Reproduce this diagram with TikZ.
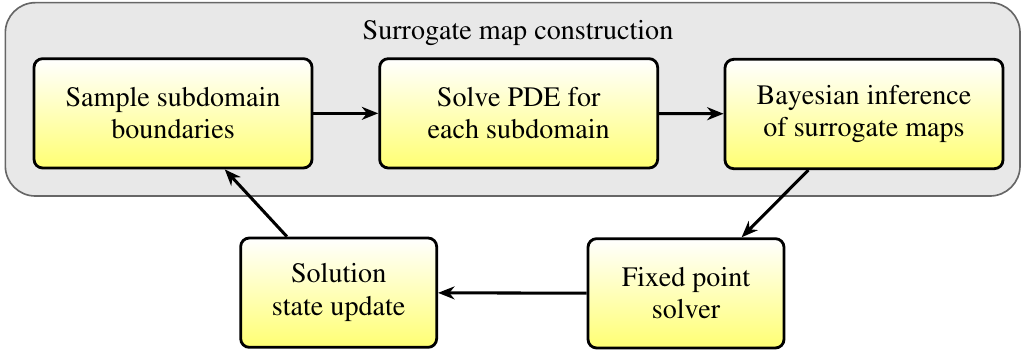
\documentclass[tikz,border=0pt]{standalone}
\usepackage[T1]{fontenc}
\usepackage{mathptmx}
\usepackage{tikz}
\usetikzlibrary{positioning,arrows.meta,calc}

\begin{document}
\begin{tikzpicture}[
    >={Stealth[length=7pt,width=5.5pt,inset=2.2pt]},
    font=\fontsize{12}{13.8}\selectfont,
    step box/.style={
        draw=black,
        rounded corners=1.3mm,
        line width=1.2pt,
        minimum width=4.17cm,
        minimum height=1.64cm,
        align=center,
        top color=white,
        bottom color=yellow!55
    },
    small box/.style={
        step box,
        minimum width=2.94cm
    },
    group/.style={
        draw=black!60,
        rounded corners=4.5mm,
        line width=0.7pt,
        fill=gray!18,
        minimum width=15.22cm,
        minimum height=2.9cm
    },
    arr/.style={->, line width=1.3pt}
]

\useasboundingbox (0,0) rectangle (15.33,-5.28);

% surrogate map group
\node[group] (surr) at (7.69,-1.49) {};
\node[anchor=base] (title) at (7.77,-0.585) {Surrogate map construction};

% first row
\node[step box] (sample) at (2.595,-1.70) {Sample subdomain\\boundaries};
\node[step box] (solve) at (7.78,-1.70) {Solve PDE for\\each subdomain};
\node[step box] (infer) at (12.96,-1.71) {Bayesian inference\\of surrogate maps};

% second row
\node[small box] (fixed) at (10.29,-4.40) {Fixed point\\solver};
\node[small box] (update) at (5.08,-4.39) {Solution\\state update};

\draw[arr] (sample) -- (solve);
\draw[arr] (solve) -- (infer);
\draw[arr] (infer) -- (fixed);
\draw[arr] (fixed) -- (update);
\draw[arr] (update) -- (sample);

\end{tikzpicture}
\end{document}
